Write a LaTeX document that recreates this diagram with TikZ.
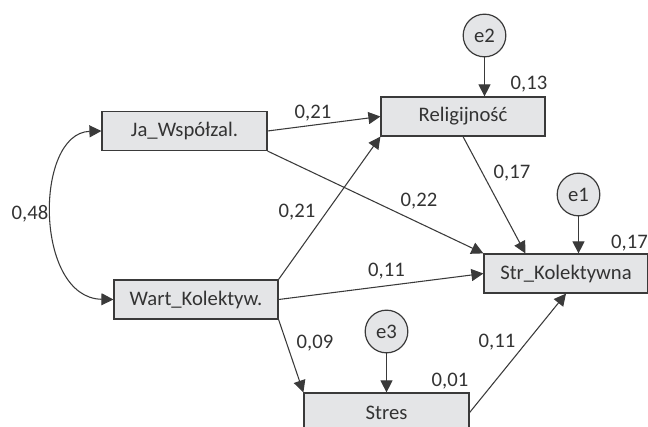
\documentclass[tikz,border=0pt]{standalone}
\usepackage{fontspec}
\setmainfont{Carlito}
\usetikzlibrary{arrows.meta}
\definecolor{boxfill}{HTML}{E4E5E7}
\definecolor{linec}{HTML}{3A3A3A}
\definecolor{txt}{HTML}{333333}
\begin{document}
\begin{tikzpicture}[x=0.75pt,y=-0.75pt,
  font=\fontsize{15.5}{18}\selectfont, text=txt,
  var/.style={draw=linec, line width=0.9pt, fill=boxfill, minimum height=29.25pt, inner sep=0pt},
  err/.style={circle, draw=linec, line width=0.9pt, fill=boxfill, minimum size=32pt, inner sep=0pt},
  conn/.style={draw=linec, line width=0.8pt, -{Triangle[length=9pt,width=9pt]}},
  lab/.style={inner sep=0pt}]
\useasboundingbox (0,0) rectangle (648,427);
\begin{scope}
\clip (0,0) rectangle (648,427);
\node[var, minimum width=123.75pt] (ja) at (184.5,131) {Ja\_Współzal.};
\node[var, minimum width=123pt] (rel) at (463,116.5) {Religijność};
\node[var, minimum width=123pt] (wart) at (196,299.5) {Wart\_Kolektyw.};
\node[var, minimum width=123pt] (str) at (566,273.5) {Str\_Kolektywna};
\node[var, minimum width=123.75pt] (stres) at (386.5,412.5) {Stres};
\node[err] (e2) at (484.5,35.5) {e2};
\node[err] (e1) at (578.5,194.5) {e1};
\node[err] (e3) at (386.5,331.5) {e3};

\draw[conn] (ja.east) -- (rel.west);
\draw[conn] (ja.south east) -- (str.north west);
\draw[conn] (wart.north east) -- (rel.south west);
\draw[conn] (wart.east) -- (str.west);
\draw[conn] (wart.south east) -- (stres.north west);
\draw[conn] (rel.south) -- ([xshift=31.5pt]str.north west);
\draw[conn] (e1) -- (e1 |- str.north);
\draw[conn] (e2) -- (e2 |- rel.north);
\draw[conn] (e3) -- (e3 |- stres.north);
\draw[conn] (stres.east) -- (str.south);
\draw[conn, {Triangle[length=9pt,width=9pt]}-{Triangle[length=9pt,width=9pt]}] (ja.west) .. controls (34,133) and (34,298) .. (wart.west);

\node[lab] (l1) at (313,113) {0,21};
\node[lab] (l2) at (529,84) {0,13};
\node[lab] (l3) at (512,173) {0,17};
\node[lab] (l4) at (419,201) {0,22};
\node[lab] (l5) at (297,212) {0,21};
\node[lab] (l6) at (30,214) {0,48};
\node[lab] (l7) at (386.5,271) {0,11};
\node[lab] (l8) at (497,342) {0,11};
\node[lab] (l9) at (450,381) {0,01};
\node[lab] (l10) at (315,343) {0,09};
\node[lab] (l11) at (629.5,243) {0,17};
\end{scope}
\end{tikzpicture}
\end{document}
